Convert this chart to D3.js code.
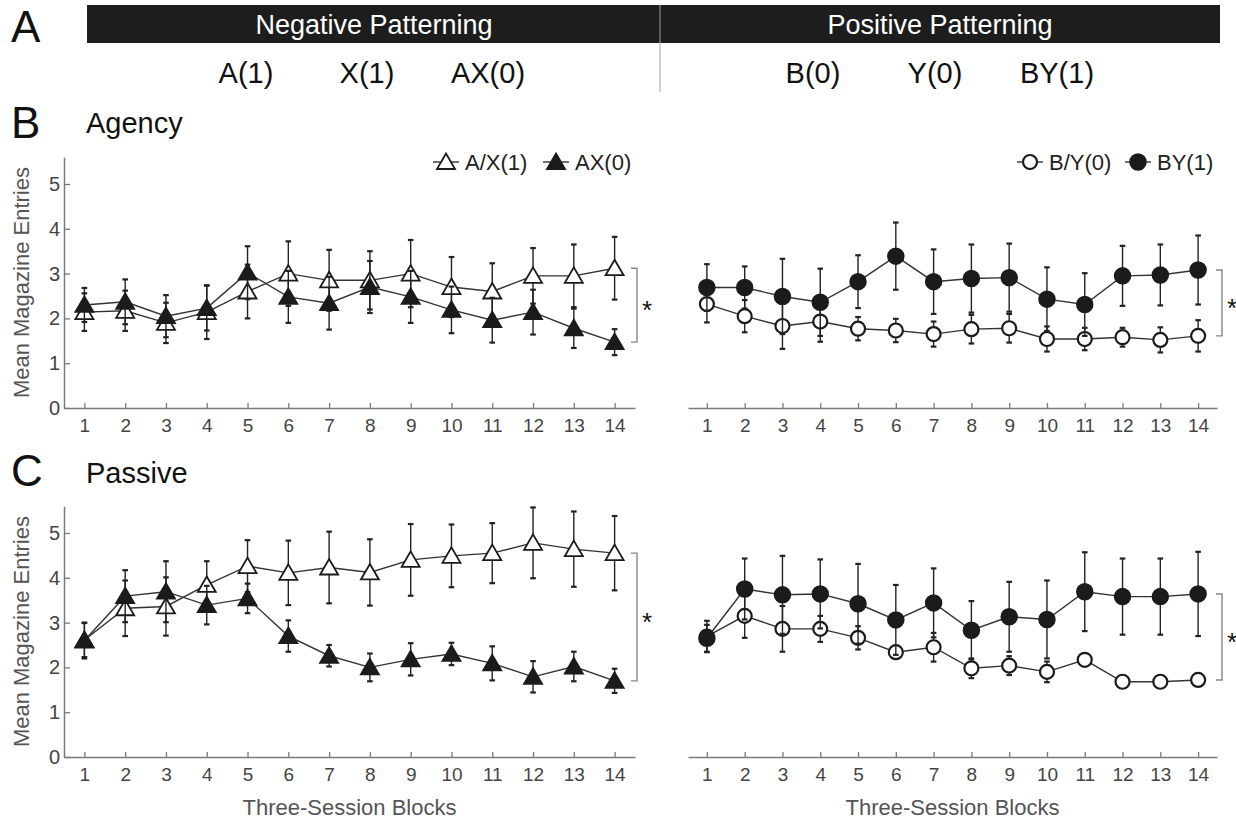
<!DOCTYPE html>
<html><head><meta charset="utf-8">
<script src="https://cdn.jsdelivr.net/npm/d3@7"></script>
<style>
body{margin:0;background:#fff}
svg{display:block}
text{font-family:"Liberation Sans",Arial,Helvetica,sans-serif}
</style>
</head><body>
<svg id="c" width="1236" height="822"></svg>
<script>
// ---------- DATA ----------
const blocks = [1,2,3,4,5,6,7,8,9,10,11,12,13,14];
const yTicks = [0,1,2,3,4,5];
const negCues = ["A(1)","X(1)","AX(0)"];
const posCues = ["B(0)","Y(0)","BY(1)"];

// Agency – negative patterning
const agencyAX1 = [2.14,2.17,1.9,2.14,2.6,3.0,2.85,2.85,3.0,2.7,2.6,2.95,2.95,3.12];
const agencyAX1Err = [0.42,0.45,0.45,0.6,0.6,0.72,0.68,0.65,0.75,0.67,0.63,0.62,0.7,0.7];
const agencyAX0 = [2.3,2.37,2.05,2.23,3.02,2.48,2.34,2.7,2.48,2.19,1.96,2.14,1.78,1.47];
const agencyAX0Err = [0.38,0.5,0.47,0.5,0.59,0.58,0.59,0.58,0.58,0.52,0.5,0.5,0.44,0.29];
// Agency – positive patterning
const agencyBY0 = [2.32,2.05,1.83,1.93,1.77,1.73,1.65,1.76,1.78,1.54,1.54,1.58,1.52,1.61];
const agencyBY0Err = [0.41,0.36,0.51,0.45,0.26,0.26,0.28,0.32,0.32,0.28,0.25,0.21,0.28,0.35];
const agencyBY1 = [2.69,2.69,2.49,2.36,2.82,3.39,2.82,2.89,2.91,2.43,2.31,2.95,2.97,3.08];
const agencyBY1Err = [0.52,0.47,0.84,0.75,0.59,0.75,0.72,0.76,0.76,0.71,0.70,0.67,0.68,0.77];
// Passive – negative patterning
const passiveAX1 = [2.61,3.32,3.36,3.84,4.26,4.11,4.23,4.12,4.40,4.49,4.55,4.78,4.64,4.55];
const passiveAX1Err = [0.38,0.62,0.65,0.53,0.58,0.72,0.8,0.74,0.8,0.7,0.67,0.79,0.84,0.83];
const passiveAX0 = [2.6,3.59,3.69,3.39,3.54,2.70,2.26,2.0,2.18,2.30,2.09,1.79,2.02,1.70];
const passiveAX0Err = [0.4,0.58,0.68,0.43,0.33,0.35,0.24,0.31,0.36,0.25,0.38,0.35,0.33,0.27];
// Passive – positive patterning
const passiveBY0 = [2.69,3.15,2.86,2.86,2.66,2.34,2.45,1.98,2.04,1.90,2.17,1.68,1.68,1.72];
const passiveBY0Err = [0.35,0.49,0.51,0.29,0.26,0.14,0.32,0.22,0.21,0.23,0.1,0.06,0.07,0.07];
const passiveBY1 = [2.65,3.75,3.62,3.64,3.42,3.06,3.44,2.83,3.13,3.07,3.69,3.58,3.58,3.64];
const passiveBY1Err = [0.3,0.68,0.87,0.77,0.89,0.78,0.77,0.65,0.78,0.87,0.88,0.85,0.85,0.94];

// ---------- DRAW ----------
const svg = d3.select("#c");
const INK = "#1b1b1b";
const AXIS = "#7a7a7a";
const FONT = '"Liberation Sans",Arial,sans-serif';

// Header
svg.append("rect").attr("x",87).attr("y",5).attr("width",1133).attr("height",38).attr("fill","#1d1d1d");
svg.append("line").attr("x1",660).attr("x2",660).attr("y1",5).attr("y2",92).attr("stroke","#a0a0a0").attr("stroke-width",1);
svg.append("text").attr("x",374).attr("y",34).attr("text-anchor","middle").attr("fill","#fff").attr("font-size",27).text("Negative Patterning");
svg.append("text").attr("x",940).attr("y",34).attr("text-anchor","middle").attr("fill","#fff").attr("font-size",27).text("Positive Patterning");
const negX = d3.scalePoint().domain(negCues).range([246,488]);
const posX = d3.scalePoint().domain(posCues).range([813,1057]);
svg.selectAll(".neg").data(negCues).join("text").attr("x",d=>negX(d)).attr("y",83)
  .attr("text-anchor","middle").attr("font-size",29).attr("fill","#111").text(d=>d);
svg.selectAll(".pos").data(posCues).join("text").attr("x",d=>posX(d)).attr("y",83)
  .attr("text-anchor","middle").attr("font-size",29).attr("fill","#111").text(d=>d);

// panel letters / titles
[["A",42],["B",138],["C",486]].forEach(([t,y])=>{
  svg.append("text").attr("x",11).attr("y",y).attr("font-size",44).attr("fill","#111").text(t);
});
svg.append("text").attr("x",86).attr("y",133).attr("font-size",29).attr("fill","#111").text("Agency");
svg.append("text").attr("x",86).attr("y",483).attr("font-size",29).attr("fill","#111").text("Passive");

function triPath(){ return "M0,-8.5L9,7L-9,7Z"; }

function markerDraw(sel, shape, filled){
  if(shape==="tri"){
    sel.append("path").attr("d",triPath()).attr("fill",filled?INK:"#fff").attr("stroke",INK).attr("stroke-width",1.8);
  } else {
    sel.append("circle").attr("r",filled?8:7).attr("fill",filled?INK:"#fff").attr("stroke",INK).attr("stroke-width",filled?1.5:2.2);
  }
}

function panel(o){
  const g = svg.append("g");
  const x = d3.scaleLinear().domain([0.5,14.5]).range([o.x0,o.x1]);
  const y = d3.scaleLinear().domain([0,5.6]).range([o.yBase,o.yBase-5.6*44.8]);

  // x axis
  const xa = g.append("g").attr("transform",`translate(0,${o.yBase})`)
    .call(d3.axisBottom(x).tickValues(blocks).tickSize(-5).tickSizeOuter(0).tickPadding(11).tickFormat(d3.format("d")));
  xa.select(".domain").attr("stroke",AXIS).attr("stroke-width",1.5);
  xa.selectAll(".tick line").attr("stroke",AXIS).attr("stroke-width",1.3);
  xa.selectAll(".tick text").attr("fill","#444").attr("font-size",19).attr("font-family",FONT);

  if(o.showY){
    const ya = g.append("g").attr("transform",`translate(${o.x0},0)`)
      .call(d3.axisLeft(y).tickValues(yTicks).tickFormat(d3.format("d")).tickSize(-6).tickSizeOuter(0).tickPadding(4));
    ya.select(".domain").attr("stroke",AXIS).attr("stroke-width",1.5);
    ya.selectAll(".tick line").attr("stroke",AXIS).attr("stroke-width",1.3);
    ya.selectAll(".tick text").attr("fill","#444").attr("font-size",20).attr("font-family",FONT);
    g.append("text").attr("transform",`translate(29,${(y(0)+y(5.6))/2}) rotate(-90)`)
      .attr("text-anchor","middle").attr("font-size",22).attr("fill","#555").text("Mean Magazine Entries");
  }
  if(o.xTitle){
    g.append("text").attr("x",(o.x0+o.x1)/2).attr("y",o.yBase+58).attr("text-anchor","middle")
      .attr("font-size",22).attr("fill","#555").text("Three-Session Blocks");
  }

  // series (open first, filled on top)
  o.series.forEach(s=>{
    const pts = blocks.map((b,i)=>({b, v:s.vals[i], e:s.err[i]}));
    g.append("path").datum(pts).attr("fill","none").attr("stroke","#333").attr("stroke-width",1.4)
      .attr("d",d3.line().x(d=>x(d.b)).y(d=>y(d.v)));
    const eb = g.append("g").attr("stroke","#222").attr("stroke-width",1.4);
    pts.forEach(d=>{
      eb.append("line").attr("x1",x(d.b)).attr("x2",x(d.b)).attr("y1",y(d.v-d.e)).attr("y2",y(d.v+d.e));
      [d.v-d.e,d.v+d.e].forEach(v=>{
        eb.append("line").attr("x1",x(d.b)-2.8).attr("x2",x(d.b)+2.8).attr("y1",y(v)).attr("y2",y(v)).attr("stroke-width",2.2);
      });
    });
    const m = g.selectAll(null).data(pts).join("g").attr("transform",d=>`translate(${x(d.b)},${y(d.v)})`);
    markerDraw(m, s.shape, s.filled);
  });

  // significance bracket
  const last = blocks.length-1;
  const yTop = y(d3.max(o.series, s=>s.vals[last]));
  const yBot = y(d3.min(o.series, s=>s.vals[last]));
  const bx = o.x1 + o.bracketOff;
  g.append("path").attr("fill","none").attr("stroke","#888").attr("stroke-width",1.4)
    .attr("d",`M${bx-6},${yTop}H${bx}V${yBot}H${bx-6}`);
  g.append("text").attr("x",bx+5).attr("y",(yTop+yBot)/2+14).attr("font-size",26).attr("fill","#111").text("*");

  // legend
  if(o.legend){
    o.legend.forEach(l=>{
      const lg = svg.append("g");
      lg.append("line").attr("x1",l.cx-13).attr("x2",l.cx+13).attr("y1",162).attr("y2",162).attr("stroke","#333").attr("stroke-width",1.4);
      const mg = lg.append("g").attr("transform",`translate(${l.cx},162)`);
      markerDraw(mg, l.shape, l.filled);
      lg.append("text").attr("x",l.tx).attr("y",170).attr("font-size",22).attr("fill","#222").text(l.label);
    });
  }
}

panel({x0:64,x1:635,yBase:408,showY:true,bracketOff:2,
  series:[{vals:agencyAX1,err:agencyAX1Err,shape:"tri",filled:false},{vals:agencyAX0,err:agencyAX0Err,shape:"tri",filled:true}],
  legend:[{cx:446,tx:465,shape:"tri",filled:false,label:"A/X(1)"},{cx:556,tx:575,shape:"tri",filled:true,label:"AX(0)"}]});
panel({x0:688,x1:1217,yBase:408,showY:false,bracketOff:5,
  series:[{vals:agencyBY0,err:agencyBY0Err,shape:"circ",filled:false},{vals:agencyBY1,err:agencyBY1Err,shape:"circ",filled:true}],
  legend:[{cx:1030,tx:1049,shape:"circ",filled:false,label:"B/Y(0)"},{cx:1138,tx:1157,shape:"circ",filled:true,label:"BY(1)"}]});
panel({x0:64,x1:635,yBase:757,showY:true,xTitle:true,bracketOff:2,
  series:[{vals:passiveAX1,err:passiveAX1Err,shape:"tri",filled:false},{vals:passiveAX0,err:passiveAX0Err,shape:"tri",filled:true}]});
panel({x0:688,x1:1217,yBase:757,showY:false,xTitle:true,bracketOff:5,
  series:[{vals:passiveBY0,err:passiveBY0Err,shape:"circ",filled:false},{vals:passiveBY1,err:passiveBY1Err,shape:"circ",filled:true}]});
</script>
</body></html>
